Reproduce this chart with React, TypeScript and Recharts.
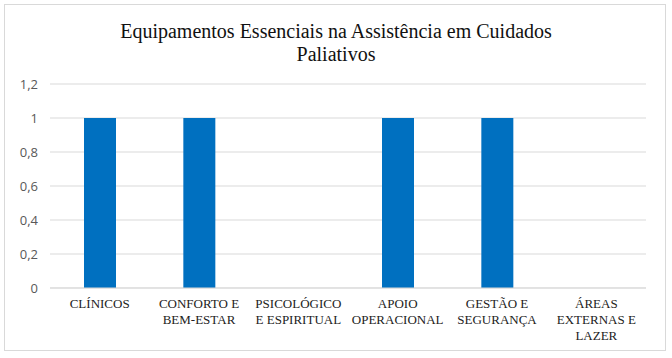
import { BarChart, Bar, XAxis, YAxis, CartesianGrid } from 'recharts';

const categories = [
  'CLÍNICOS',
  'CONFORTO E BEM-ESTAR',
  'PSICOLÓGICO E ESPIRITUAL',
  'APOIO OPERACIONAL',
  'GESTÃO E SEGURANÇA',
  'ÁREAS EXTERNAS E LAZER',
];

// how each category label wraps under the axis
const categoryLines = [
  ['CLÍNICOS'],
  ['CONFORTO E', 'BEM-ESTAR'],
  ['PSICOLÓGICO', 'E ESPIRITUAL'],
  ['APOIO', 'OPERACIONAL'],
  ['GESTÃO E', 'SEGURANÇA'],
  ['ÁREAS', 'EXTERNAS E', 'LAZER'],
];

const values = [1, 1, 0, 1, 1, 0];
const yTicks = [0, 0.2, 0.4, 0.6, 0.8, 1, 1.2];

const data = categories.map((name, i) => ({ name, value: values[i] }));

const serif = "'Liberation Serif', 'Times New Roman', serif";

function CategoryTick(props: any) {
  const { x, y, index } = props;
  const lines = categoryLines[index] || [];
  return (
    <text x={x} y={y} textAnchor="middle" style={{ fontFamily: serif, fontSize: 13 }} fill="#222">
      {lines.map((l, i) => (
        <tspan key={i} x={x} dy={i === 0 ? 12 : 16}>{l}</tspan>
      ))}
    </text>
  );
}

export default function App() {
  return (
    <div style={{ position: 'absolute', left: 0, top: 0, width: 672, height: 358, background: '#fff' }}>
      <div
        style={{
          position: 'absolute', left: 4, top: 4, width: 662, height: 347,
          border: '1px solid #d9d9d9', boxSizing: 'border-box',
        }}
      />
      <div
        style={{
          position: 'absolute', left: 0, top: 20, width: 672, textAlign: 'center',
          fontFamily: serif, fontSize: 20, lineHeight: '23px', color: '#111',
        }}
      >
        Equipamentos Essenciais na Assistência em Cuidados<br />Paliativos
      </div>
      <div style={{ position: 'absolute', left: 0, top: 0 }}>
        <BarChart
          width={672}
          height={358}
          data={data}
          margin={{ top: 84, right: 26, bottom: 40, left: 0 }}
        >
          <CartesianGrid vertical={false} stroke="#d9d9d9" />
          <XAxis
            dataKey="name"
            interval={0}
            height={30}
            tickLine={false}
            axisLine={{ stroke: '#d9d9d9' }}
            tick={<CategoryTick />}
          />
          <YAxis
            width={50}
            domain={[0, 1.2]}
            ticks={yTicks}
            tickLine={false}
            axisLine={false}
            tickMargin={6}
            tickFormatter={(v: number) => String(Math.round(v * 10) / 10).replace('.', ',')}
            tick={{ fontFamily: "'Open Sans', 'Liberation Sans', sans-serif", fontSize: 13, fill: '#595959' }}
          />
          <Bar dataKey="value" fill="#0070C0" barSize={32} isAnimationActive={false} />
        </BarChart>
      </div>
    </div>
  );
}
